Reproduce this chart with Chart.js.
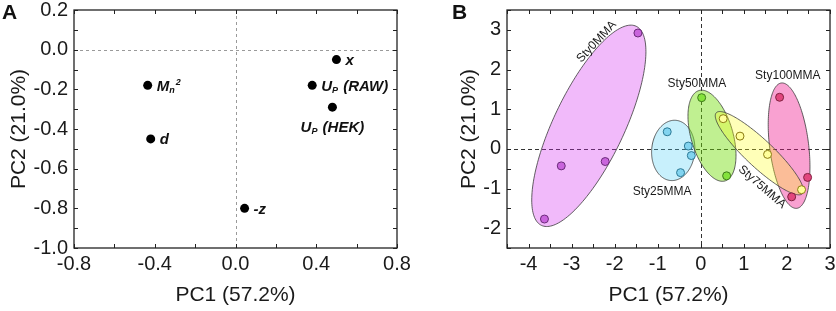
<!DOCTYPE html>
<html>
<head>
<meta charset="utf-8">
<script src="https://cdn.jsdelivr.net/npm/chart.js@4.4.1/dist/chart.umd.min.js"></script>
<style>
  body { margin: 0; background: #fff; }
  .panel { position: absolute; top: 0; }
</style>
</head>
<body>
<div class="panel" style="left:0"><canvas id="graf-a" width="420" height="311"></canvas></div>
<div class="panel" style="left:420px"><canvas id="graf-b" width="416" height="311"></canvas></div>
<script>
// ---- panel A: loadings ----
const loadNames = ['x', 'U_P (RAW)', 'U_P (HEK)', 'M_n^2', 'd', '-z'];
const loadPC1 = [0.50, 0.38, 0.48, -0.435, -0.42, 0.045];
const loadPC2 = [-0.05, -0.18, -0.29, -0.18, -0.45, -0.80];
const pc1TicksA = [-0.8, -0.4, 0.0, 0.4, 0.8];
const pc2TicksA = [-1.0, -0.8, -0.6, -0.4, -0.2, 0.0, 0.2];

// ---- panel B: scores ----
const groups = ['Sty0MMA', 'Sty25MMA', 'Sty50MMA', 'Sty75MMA', 'Sty100MMA'];
const scorePC1 = [
  [-1.46, -3.24, -2.22, -3.63],
  [-0.78, -0.29, -0.22, -0.47],
  [0.02, 0.60],
  [0.52, 0.91, 1.55, 2.34],
  [1.83, 2.11, 2.48]
];
const scorePC2 = [
  [2.92, -0.43, -0.32, -1.77],
  [0.43, 0.07, -0.17, -0.60],
  [1.29, -0.68],
  [0.76, 0.32, -0.14, -1.03],
  [1.30, -1.21, -0.72]
];
// confidence ellipses: centre and two semi-axis vectors, in PC units
const ellCentre = [[-2.60, 0.58], [-0.64, -0.04], [0.26, 0.33], [1.36, -0.11], [2.05, 0.08]];
const ellAxisU = [[1.10, 2.51], [0.05, 0.76], [0.30, -1.14], [1.00, -1.02], [0.18, -1.58]];
const ellAxisV = [[0.74, -0.38], [0.50, -0.03], [0.47, 0.14], [0.22, 0.25], [0.45, 0.06]];
const pc1TicksB = [-4, -3, -2, -1, 0, 1, 2, 3];
const pc2TicksB = [-2, -1, 0, 1, 2, 3];

// styles
const FONT = "'Liberation Sans', Arial, sans-serif";
const ellFill = ['rgba(210,40,240,0.32)', 'rgba(72,205,245,0.30)', 'rgba(110,220,0,0.43)',
                 'rgba(255,255,20,0.30)', 'rgba(240,20,140,0.40)'];
const ptFill = ['#c964dc', '#82d4f0', '#84e23c', '#ffff9a', '#e2467e'];
const ptLine = ['#6a2a78', '#2a7894', '#3c7a18', '#8a7a10', '#80203f'];
const drawOrder = [0, 1, 4, 2, 3];
const groupLabelAt = [[-2.42, 2.70, -47], [-0.90, -1.09, 0], [-0.09, 1.64, 0], [1.42, -0.96, 41], [2.02, 1.84, 0]];

function hasTick(list, v) {
  return list.some(t => Math.abs(t - v) < 1e-6);
}

function fmt1(v) {
  const r = Math.round(v * 10) / 10;
  return (r === 0 ? 0 : r).toFixed(1);
}

// draw text with one-character _sub and ^sup
function drawRich(ctx, str, x, y, align) {
  const parts = [];
  for (let i = 0; i < str.length; i++) {
    const ch = str[i];
    if ((ch === '_' || ch === '^') && i + 1 < str.length) {
      parts.push({ t: str[i + 1], k: ch });
      i++;
    } else if (parts.length && !parts[parts.length - 1].k) {
      parts[parts.length - 1].t += ch;
    } else {
      parts.push({ t: ch, k: null });
    }
  }
  const big = 'italic bold 15px ' + FONT;
  const small = 'italic bold 9px ' + FONT;
  let w = 0;
  parts.forEach(p => { ctx.font = p.k ? small : big; p.w = ctx.measureText(p.t).width + (p.k ? 1 : 0); w += p.w; });
  let cx = align === 'center' ? x - w / 2 : x;
  ctx.textBaseline = 'alphabetic';
  ctx.textAlign = 'left';
  parts.forEach(p => {
    ctx.font = p.k ? small : big;
    const dy = p.k === '_' ? 2 : (p.k === '^' ? -6 : 0);
    ctx.fillText(p.t, cx, y + 5.5 + dy);
    cx += p.w;
  });
}

function framePlugin(letter, letterX, dashColor, dash) {
  return {
    id: 'frame' + letter,
    beforeDatasetsDraw(chart) {
      const { ctx, chartArea: a, scales: { x, y } } = chart;
      ctx.save();
      ctx.strokeStyle = dashColor;
      ctx.lineWidth = 1;
      ctx.setLineDash(dash);
      const x0 = Math.round(x.getPixelForValue(0)) + 0.5;
      const y0 = Math.round(y.getPixelForValue(0)) + 0.5;
      ctx.beginPath();
      ctx.moveTo(x0, a.top); ctx.lineTo(x0, a.bottom);
      ctx.moveTo(a.left, y0); ctx.lineTo(a.right, y0);
      ctx.stroke();
      ctx.restore();
    },
    afterDraw(chart) {
      const { ctx, chartArea: a, scales: { x, y } } = chart;
      ctx.save();
      ctx.strokeStyle = '#222';
      ctx.lineWidth = 1.3;
      ctx.strokeRect(a.left, a.top, a.right - a.left, a.bottom - a.top);
      ctx.lineWidth = 1;
      ctx.beginPath();
      x.ticks.forEach(t => {
        const p = Math.round(x.getPixelForValue(t.value)) + 0.5;
        ctx.moveTo(p, a.bottom); ctx.lineTo(p, a.bottom - 4);
        ctx.moveTo(p, a.top); ctx.lineTo(p, a.top + 4);
      });
      y.ticks.forEach(t => {
        const p = Math.round(y.getPixelForValue(t.value)) + 0.5;
        ctx.moveTo(a.left, p); ctx.lineTo(a.left + 4, p);
        ctx.moveTo(a.right, p); ctx.lineTo(a.right - 4, p);
      });
      ctx.stroke();
      ctx.fillStyle = '#111';
      ctx.font = 'bold 21px ' + FONT;
      ctx.textBaseline = 'top';
      ctx.fillText(letter, letterX, 3);
      ctx.restore();
    }
  };
}

function axis(min, max, step, list, fmt, title, fit, tickPad, titlePad) {
  return {
    type: 'linear', min: min, max: max,
    grid: { display: false, drawTicks: false },
    border: { display: false },
    ticks: {
      stepSize: step, autoSkip: false, maxRotation: 0, color: '#1a1a1a', padding: tickPad,
      font: { family: FONT, size: 20, lineHeight: 1.0 },
      callback: v => hasTick(list, v) ? fmt(v) : ''
    },
    title: { display: true, text: title, color: '#1a1a1a', padding: titlePad,
             font: { family: FONT, size: 21, lineHeight: 1.2 } },
    afterFit: s => {
      fit(s);
      // let layout.padding alone decide the plot edges
      s.paddingLeft = 0; s.paddingRight = 0; s.paddingTop = 0; s.paddingBottom = 0;
    }
  };
}

// ---- chart A ----
const loadLabelPlugin = {
  id: 'loadLabels',
  afterDatasetsDraw(chart) {
    const { ctx, scales: { x, y } } = chart;
    ctx.save();
    ctx.fillStyle = '#111';
    loadNames.forEach((n, i) => {
      const px = x.getPixelForValue(loadPC1[i]);
      const py = y.getPixelForValue(loadPC2[i]);
      if (n.indexOf('HEK') >= 0) drawRich(ctx, n, px, py + 19, 'center');
      else drawRich(ctx, n, px + 9, py, 'left');
    });
    ctx.restore();
  }
};

new Chart(document.getElementById('graf-a').getContext('2d'), {
  type: 'scatter',
  data: {
    datasets: [{
      data: loadPC1.map((v, i) => ({ x: v, y: loadPC2[i] })),
      backgroundColor: '#000', borderColor: '#000', pointRadius: 4.5, borderWidth: 0
    }]
  },
  options: {
    responsive: false, animation: false,
    layout: { padding: { left: 0, top: 10, right: 23, bottom: 0 } },
    plugins: { legend: { display: false }, tooltip: { enabled: false } },
    scales: {
      x: axis(-0.8, 0.8, 0.2, pc1TicksA, fmt1, 'PC1 (57.2%)',
        s => { s.height = 63; }, 6, { top: 4, bottom: 3 }),
      y: axis(-1.0, 0.2, 0.1, pc2TicksA, fmt1, 'PC2 (21.0%)',
        s => { s.width = 74; }, 6, { top: 7, bottom: 4 })
    }
  },
  plugins: [framePlugin('A', 2, '#9a9a9a', [3, 3]), loadLabelPlugin]
});

// ---- chart B ----
const ellipsePlugin = {
  id: 'ellipses',
  beforeDatasetsDraw(chart) {
    const { ctx, chartArea: a, scales: { x, y } } = chart;
    ctx.save();
    ctx.beginPath();
    ctx.rect(a.left, a.top, a.right - a.left, a.bottom - a.top);
    ctx.clip();
    drawOrder.forEach(g => {
      const c = ellCentre[g], u = ellAxisU[g], v = ellAxisV[g];
      ctx.beginPath();
      for (let k = 0; k <= 180; k++) {
        const t = k / 180 * 2 * Math.PI;
        const px = x.getPixelForValue(c[0] + u[0] * Math.cos(t) + v[0] * Math.sin(t));
        const py = y.getPixelForValue(c[1] + u[1] * Math.cos(t) + v[1] * Math.sin(t));
        if (k === 0) ctx.moveTo(px, py); else ctx.lineTo(px, py);
      }
      ctx.closePath();
      ctx.fillStyle = ellFill[g];
      ctx.fill();
      ctx.strokeStyle = '#3a3a3a';
      ctx.lineWidth = 0.8;
      ctx.stroke();
    });
    ctx.restore();
  },
  afterDatasetsDraw(chart) {
    const { ctx, scales: { x, y } } = chart;
    ctx.save();
    ctx.fillStyle = '#1a1a1a';
    ctx.font = '12px ' + FONT;
    ctx.textAlign = 'center';
    ctx.textBaseline = 'middle';
    groups.forEach((g, i) => {
      const p = groupLabelAt[i];
      ctx.save();
      ctx.translate(x.getPixelForValue(p[0]), y.getPixelForValue(p[1]));
      ctx.rotate(p[2] * Math.PI / 180);
      ctx.fillText(g, 0, 0);
      ctx.restore();
    });
    ctx.restore();
  }
};

new Chart(document.getElementById('graf-b').getContext('2d'), {
  type: 'scatter',
  data: {
    datasets: groups.map((g, i) => ({
      label: g,
      data: scorePC1[i].map((v, k) => ({ x: v, y: scorePC2[i][k] })),
      backgroundColor: ptFill[i], borderColor: ptLine[i], borderWidth: 1, pointRadius: 4
    }))
  },
  options: {
    responsive: false, animation: false,
    layout: { padding: { left: 0, top: 10, right: 6, bottom: 0 } },
    plugins: { legend: { display: false }, tooltip: { enabled: false } },
    scales: {
      x: axis(-4.5, 3, 0.5, pc1TicksB, v => String(Math.round(v)), 'PC1 (57.2%)',
        s => { s.height = 63; }, 6, { top: 4, bottom: 3 }),
      y: axis(-2.5, 3.5, 0.5, pc2TicksB, v => String(Math.round(v)), 'PC2 (21.0%)',
        s => { s.width = 87; }, 6, { top: 37, bottom: 4 })
    }
  },
  plugins: [framePlugin('B', 32, '#333', [4, 3]), ellipsePlugin]
});
</script>
</body>
</html>
